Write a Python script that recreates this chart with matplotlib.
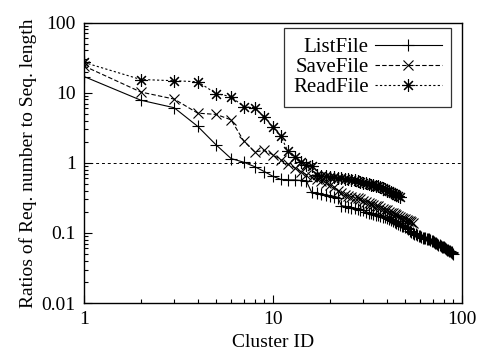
import numpy as np
import matplotlib
matplotlib.use('Agg')
import matplotlib.pyplot as plt
from matplotlib.ticker import FixedLocator, FixedFormatter, LogLocator, NullFormatter

plt.rcParams['font.family'] = ['Liberation Serif', 'DejaVu Serif']

# ratios per cluster id
list_file = [17, 7.8, 6.1, 3.3, 1.8, 1.15, 1.02, 0.88, 0.75, 0.64,
             0.58, 0.57, 0.57, 0.56, 0.55, 0.38, 0.37, 0.36, 0.35, 0.34,
             0.33, 0.32, 0.245, 0.24, 0.235, 0.23, 0.225, 0.22, 0.215, 0.21,
             0.2, 0.195, 0.19, 0.185, 0.18, 0.178, 0.175, 0.17, 0.167, 0.165,
             0.16, 0.155, 0.15, 0.145, 0.14, 0.135, 0.13, 0.127, 0.124, 0.12,
             0.116, 0.112, 0.108, 0.104, 0.1, 0.097, 0.095, 0.093, 0.091, 0.089,
             0.087, 0.086, 0.085, 0.084, 0.083, 0.082, 0.081, 0.08, 0.078, 0.077,
             0.075, 0.073, 0.071, 0.07, 0.068, 0.067, 0.065, 0.064, 0.063, 0.062,
             0.06, 0.059, 0.058, 0.057, 0.056, 0.055, 0.054, 0.053, 0.052, 0.05]
save_file = [24, 10.2, 8.1, 5.1, 4.9, 4.1, 2.05, 1.43, 1.5, 1.3,
             1.1, 0.95, 0.85, 0.75, 0.68, 0.62, 0.58, 0.55, 0.52, 0.48,
             0.45, 0.4, 0.37, 0.35, 0.34, 0.33, 0.32, 0.31, 0.3, 0.29,
             0.28, 0.27, 0.26, 0.25, 0.245, 0.24, 0.23, 0.22, 0.215, 0.21,
             0.2, 0.195, 0.19, 0.185, 0.18, 0.175, 0.17, 0.165, 0.16, 0.157,
             0.153, 0.15, 0.147, 0.143, 0.14]
read_file = [27, 15.4, 14.8, 14.3, 9.7, 8.8, 6.3, 6.1, 4.5, 3.2,
             2.4, 1.45, 1.2, 1.03, 0.93, 0.9, 0.66, 0.65, 0.64, 0.63,
             0.62, 0.61, 0.6, 0.59, 0.58, 0.57, 0.56, 0.55, 0.53, 0.52,
             0.51, 0.5, 0.49, 0.48, 0.47, 0.46, 0.45, 0.44, 0.42, 0.4,
             0.39, 0.38, 0.37, 0.36, 0.35, 0.34, 0.33]

fig = plt.figure(figsize=(4.81, 3.52), dpi=100)
ax = fig.add_axes([0.1746, 0.139, 0.786, 0.797])

ax.plot(np.arange(1, len(list_file) + 1), list_file, color='black', lw=0.8,
        ls='-', marker='+', ms=8, mew=0.8, label='ListFile')
ax.plot(np.arange(1, len(save_file) + 1), save_file, color='black', lw=0.8,
        ls=(0, (4, 2)), marker='x', ms=7, mew=0.8, label='SaveFile')
ax.plot(np.arange(1, len(read_file) + 1), read_file, color='black', lw=0.8,
        ls=(0, (2, 2)), marker=(8, 2, 0), ms=9, mew=0.8, label='ReadFile')
ax.axhline(1, color='black', lw=0.7, ls=(0, (3, 3)))

ax.set_xscale('log')
ax.set_yscale('log')
ax.set_xlim(1, 100)
ax.set_ylim(0.01, 100)

ax.yaxis.set_major_locator(FixedLocator([0.01, 0.1, 1, 10, 100]))
ax.yaxis.set_major_formatter(FixedFormatter(['0.01', '0.1', '1', '10', '100']))
ax.xaxis.set_major_locator(FixedLocator([1, 10, 100]))
ax.xaxis.set_major_formatter(FixedFormatter(['1', '10', '100']))
ax.xaxis.set_minor_locator(LogLocator(base=10, subs=np.arange(2, 10)))
ax.yaxis.set_minor_locator(LogLocator(base=10, subs=np.arange(2, 10)))
ax.xaxis.set_minor_formatter(NullFormatter())
ax.yaxis.set_minor_formatter(NullFormatter())
ax.tick_params(which='both', direction='in', top=False, right=False,
               labelsize=14, width=0.8, pad=6)
ax.tick_params(which='major', length=6)
ax.tick_params(which='minor', length=3)
for s in ax.spines.values():
    s.set_linewidth(1.0)

ax.set_xlabel('Cluster ID', fontsize=14, labelpad=4)
ax.set_ylabel('Ratios of Req. number to Seq. length', fontsize=14, labelpad=3)

leg = ax.legend(loc='upper right', bbox_to_anchor=(0.971, 0.979), markerfirst=False,
                fontsize=15, frameon=True, fancybox=False, edgecolor='black',
                handlelength=3.2, handletextpad=0.3, borderpad=0.45,
                labelspacing=0.02, borderaxespad=0)
leg.get_frame().set_linewidth(0.9)

fig.savefig('out.png', dpi=100)
